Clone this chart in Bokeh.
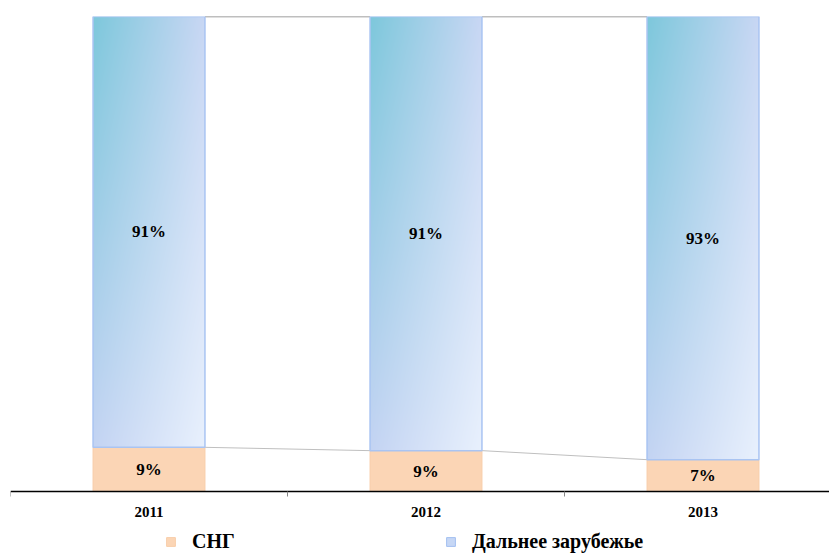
import numpy as np
from bokeh.plotting import figure
from bokeh.models import (Range1d, LinearAxis, FixedTicker, Legend, LegendItem,
                          ColumnDataSource)
from bokeh.core.properties import value
from bokeh.embed import file_html
from bokeh.resources import INLINE

# ---- data ----
years = ["2011", "2012", "2013"]
cis = [9.3, 8.6, 6.7]          # СНГ, %
far = [90.7, 91.4, 93.3]       # Дальнее зарубежье, %
series_names = ["СНГ", "Дальнее зарубежье"]

xs = list(range(len(years)))
bw = 0.404
FONT = "Liberation Serif"

p = figure(frame_width=819, frame_height=538, output_backend="svg",
           toolbar_location=None, x_axis_type=None, y_axis_type=None,
           x_range=Range1d(-0.5, -0.5 + 819 / 277),
           y_range=Range1d(-63 * 100 / 475, 100),
           min_border_left=10, min_border_right=0, min_border_top=16,
           min_border_bottom=0)
p.outline_line_color = None
p.xgrid.visible = False
p.ygrid.visible = False
p.background_fill_color = "white"
p.border_fill_color = "white"

# legend proxy renderer for gradient series (zero-height, hidden beneath the СНГ bars)
r_far = p.vbar(x=[xs[0]], width=bw, top=[0], bottom=[0], fill_color="#C6D7F5",
               line_color="#A3BFF0", line_width=1)

# connecting series lines
p.segment(x0=[x + bw / 2 for x in xs[:-1]], y0=[cis[i] + far[i] for i in xs[:-1]],
          x1=[x + 1 - bw / 2 for x in xs[:-1]], y1=[cis[i + 1] + far[i + 1] for i in xs[:-1]],
          line_color="#7F7F7F", line_width=1.5)
p.segment(x0=[x + bw / 2 for x in xs[:-1]], y0=cis[:-1],
          x1=[x + 1 - bw / 2 for x in xs[:-1]], y1=cis[1:],
          line_color="#BFBFBF", line_width=1)

# СНГ bars
src = ColumnDataSource(dict(x=xs, cis=cis, far=far, top=[c + f for c, f in zip(cis, far)]))
r_cis = p.vbar(x="x", width=bw, bottom=0, top="cis", source=src,
               fill_color="#FBD5B5", line_color="#F8CDA9", line_width=1)

# gradient images for far-abroad bars
def gradient(h=440, w=112):
    TL = np.array([126, 200, 220]); TR = np.array([201, 215, 244])
    BL = np.array([196, 212, 243]); BR = np.array([233, 241, 253])
    u = np.linspace(0, 1, w)[None, :, None]
    vv = (1 - np.linspace(0, 1, h))[:, None, None]  # row 0 is bottom
    c = (1 - u) * (1 - vv) * TL + u * (1 - vv) * TR + (1 - u) * vv * BL + u * vv * BR
    img = np.empty((h, w), dtype=np.uint32)
    v = img.view(dtype=np.uint8).reshape((h, w, 4))
    v[..., :3] = np.clip(c, 0, 255).astype(np.uint8)
    v[..., 3] = 255
    return img

p.image_rgba(image=[gradient() for _ in xs], x=[x - bw / 2 for x in xs], y=cis,
             dw=[bw] * len(xs), dh=far)
p.vbar(x="x", width=bw, bottom="cis", top="top", source=src,
       fill_alpha=0, line_color="#A9C4F2", line_width=1.5)

# data labels
p.text(x=xs, y=[c / 2 for c in cis], text=[f"{c:.0f}%" for c in cis],
       text_font=value(FONT), text_font_style="bold", text_font_size="17px",
       text_align="center", text_baseline="middle", text_color="black")
p.text(x=xs, y=[c + f / 2 for c, f in zip(cis, far)], text=[f"{f:.0f}%" for f in far],
       text_font=value(FONT), text_font_style="bold", text_font_size="17px",
       text_align="center", text_baseline="middle", text_color="black")

# x axis, fixed at y = 0
ax = LinearAxis(ticker=FixedTicker(ticks=xs, minor_ticks=[x - 0.5 for x in xs] + [xs[-1] + 0.5]),
                fixed_location=0)
ax.major_label_overrides = {x: y for x, y in zip(xs, years)}
ax.major_tick_out = 0
ax.major_tick_in = 0
ax.minor_tick_out = 5
ax.minor_tick_in = 0
ax.minor_tick_line_color = "#868686"
ax.axis_line_color = "black"
ax.axis_line_width = 1.5
ax.major_label_standoff = 10
ax.major_label_text_font = FONT
ax.major_label_text_font_style = "bold"
ax.major_label_text_font_size = "15px"
ax.major_label_text_color = "black"
p.add_layout(ax, "below")

legend = Legend(items=[LegendItem(label=series_names[0], renderers=[r_cis]),
                       LegendItem(label=series_names[1], renderers=[r_far])],
                orientation="horizontal", location=(155, 1),
                glyph_width=11, glyph_height=11, label_standoff=16,
                label_width=253, label_height=20, spacing=0, padding=0, margin=0,
                border_line_color=None, background_fill_alpha=0,
                label_text_font=FONT, label_text_font_style="bold",
                label_text_font_size="20px", label_text_color="black")
p.add_layout(legend, "center")

open("out.html", "w").write(file_html(p, INLINE))
